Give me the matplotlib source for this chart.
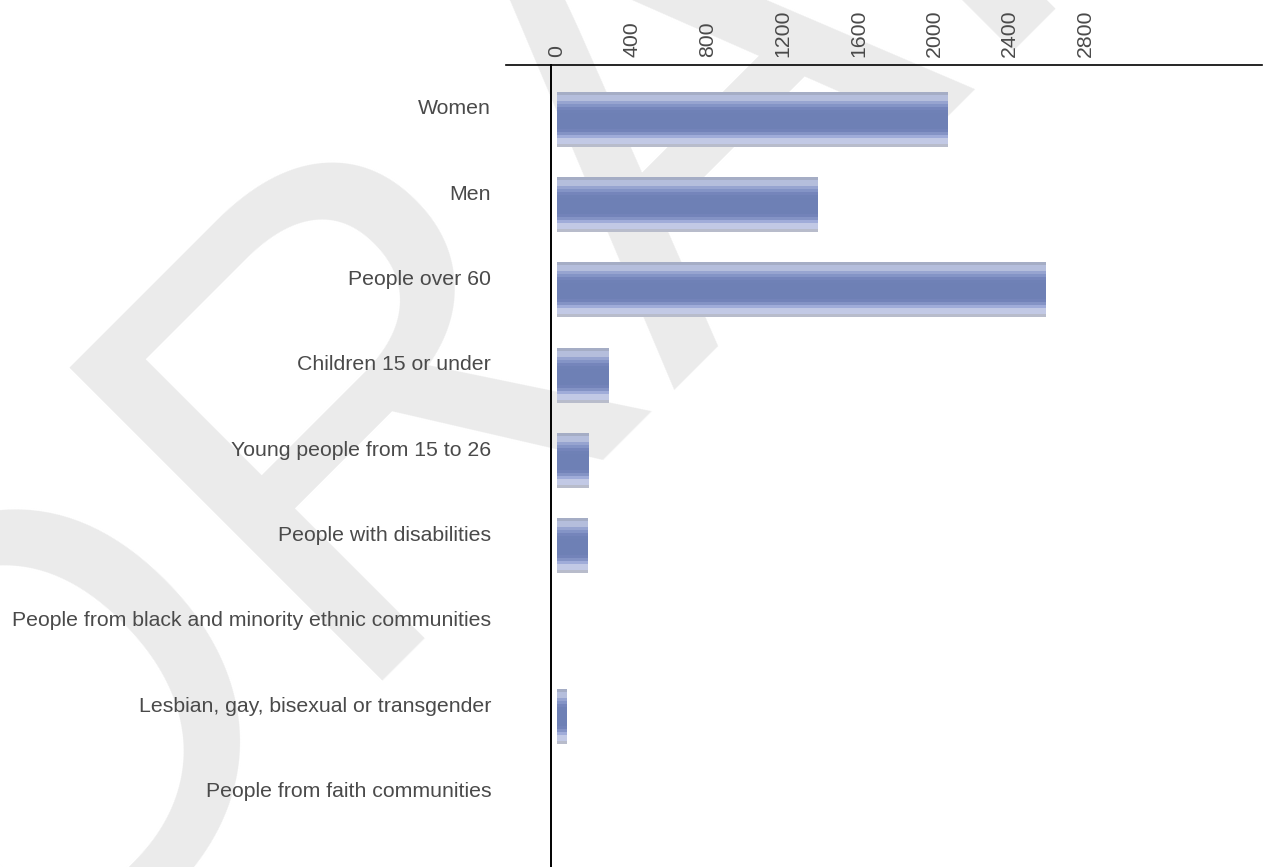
import matplotlib.pyplot as plt
import numpy as np
from matplotlib.colors import to_rgb

# Data
categories = ['Women', 'Men', 'People over 60', 'Children 15 or under',
              'Young people from 15 to 26', 'People with disabilities',
              'People from black and minority ethnic communities',
              'Lesbian, gay, bisexual or transgender',
              'People from faith communities']
counts = [2070, 1380, 2590, 275, 165, 160, 0, 48, 0]
x_ticks = [0, 400, 800, 1200, 1600, 2000, 2400, 2800]

# stripes of the bar shading, top to bottom
stripe_colors = ['#a5adc5', '#b5bedc', '#b5bedc', '#97a4d0', '#8494c6',
                 '#7585bb', '#6f81b6', '#6e80b5', '#6e80b5', '#6e80b5',
                 '#6e80b5', '#6e80b5', '#7383b9', '#8493c5', '#a0acd9',
                 '#c2c9e5', '#c2c9e5', '#b8bccb']

plt.rcParams['font.family'] = ['Liberation Sans', 'DejaVu Sans']

fig = plt.figure(figsize=(12.7, 8.67), dpi=100)

# watermark behind everything
fig.text(0.002, -0.162, 'DRAFT', rotation=45, rotation_mode='anchor',
         fontsize=462, color='#ebebeb', ha='left', va='baseline', zorder=-1)

ax = fig.add_axes([506 / 1270, 0, 756 / 1270, 802 / 867])
ax.patch.set_visible(False)

y_pos = np.arange(len(categories))
bars = ax.barh(y_pos + 0.15, counts, height=0.633, color='#6e80b5', zorder=2)

grad = np.array([to_rgb(c) for c in stripe_colors])[:, None, :]
for b in bars:
    if b.get_width() <= 0:
        continue
    x, y, w, h = b.get_x(), b.get_y(), b.get_width(), b.get_height()
    ax.imshow(grad, extent=(x, x + w, y + h, y), aspect='auto',
              interpolation='nearest', zorder=3)

ax.set_xlim(-270, 3738)
ax.set_ylim(8.91, -0.49)

ax.xaxis.tick_top()
ax.set_xticks(x_ticks)
ax.set_xticklabels([str(t) for t in x_ticks], rotation=90)
ax.set_yticks(y_pos)
ax.set_yticklabels(categories)
ax.tick_params(axis='x', length=0, pad=5.5, labelsize=15.3, labelcolor='#4a4a4a')
ax.tick_params(axis='y', length=0, pad=43, labelsize=15.3, labelcolor='#4a4a4a')

for s in ['right', 'bottom']:
    ax.spines[s].set_visible(False)
ax.spines['top'].set_linewidth(1.2)
ax.spines['left'].set_linewidth(1.4)
ax.spines['left'].set_position(('data', -32))

fig.savefig('out.png', dpi=100)
